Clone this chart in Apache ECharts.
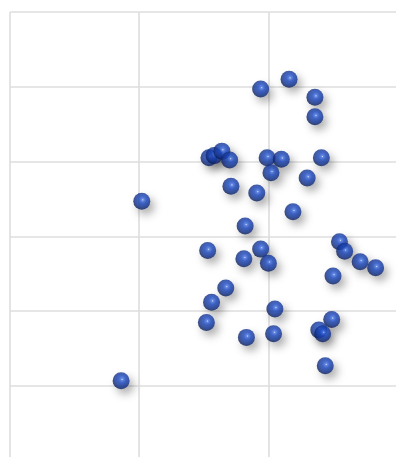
<!DOCTYPE html>
<html>
<head>
<meta charset="utf-8">
<script src="https://cdn.jsdelivr.net/npm/echarts@6/dist/echarts.min.js"></script>
<style>html,body{margin:0;padding:0;background:#fff}#c{width:396px;height:457px}</style>
</head>
<body>
<div id="c"></div>
<script>
const xValues = [2.16,1.94,2.36,2.36,1.54,1.58,1.64,1.70,1.99,2.10,2.41,2.02,2.30,1.71,1.91,1.02,2.19,1.82,2.55,2.59,1.53,1.94,1.81,2.00,2.71,2.83,2.50,1.67,1.56,2.05,1.52,2.49,2.39,2.42,1.83,2.04,2.44,0.86];
const yValues = [5.10,4.97,4.86,4.60,4.05,4.08,4.14,4.02,4.05,4.03,4.05,3.85,3.78,3.67,3.58,3.47,3.33,3.14,2.93,2.80,2.81,2.83,2.70,2.64,2.66,2.58,2.47,2.31,2.12,2.03,1.85,1.89,1.75,1.70,1.65,1.70,1.27,1.07];
const xTicks = [0,1,2,3];
const yTicks = [0,1,2,3,4,5,6];

const points = xValues.map((x,i)=>[x,yValues[i]]);
const chart = echarts.init(document.getElementById('c'), null, {renderer:'canvas'});
const axisCommon = {
  type:'value', interval:1,
  axisLine:{show:false}, axisTick:{show:false}, axisLabel:{show:false},
  splitLine:{show:true, lineStyle:{color:'#dedede', width:1.6}}
};
chart.setOption({
  animation:false,
  backgroundColor:'#ffffff',
  grid:{left:10, top:12, width:387.6, height:448.8, containLabel:false, outerBoundsMode:'none'},
  xAxis:Object.assign({}, axisCommon, {min:xTicks[0], max:xTicks[xTicks.length-1]}),
  yAxis:Object.assign({}, axisCommon, {min:yTicks[0], max:yTicks[yTicks.length-1]}),
  series:[{
    type:'scatter',
    data:points,
    symbol:'circle',
    symbolSize:17,
    itemStyle:{
      color:new echarts.graphic.RadialGradient(0.56,0.42,0.6,[
        {offset:0, color:'#dfe9ff'},
        {offset:0.1, color:'#4676e6'},
        {offset:0.35, color:'#1b48c2'},
        {offset:0.75, color:'#11318c'},
        {offset:1, color:'#081a50'}
      ]),
      shadowBlur:8,
      shadowColor:'rgba(0,0,0,0.4)',
      shadowOffsetX:4,
      shadowOffsetY:5
    }
  }]
});
</script>
</body>
</html>
